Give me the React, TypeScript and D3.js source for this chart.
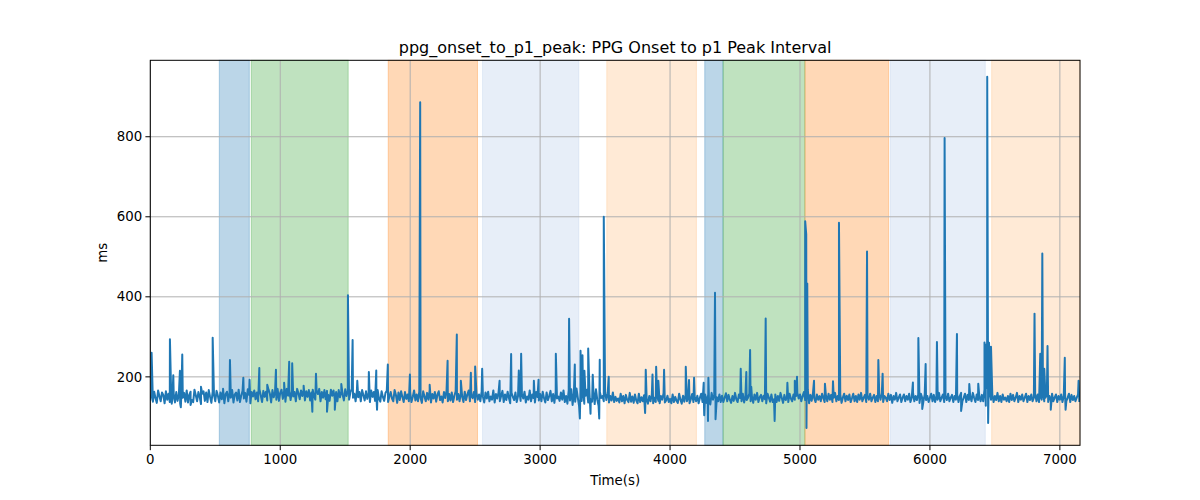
import React from 'react';
import * as d3 from 'd3';

const TITLE = 'ppg_onset_to_p1_peak: PPG Onset to p1 Peak Interval';
const X_LABEL = 'Time(s)';
const Y_LABEL = 'ms';

const X_DOMAIN: [number, number] = [0, 7155];
const Y_DOMAIN: [number, number] = [29, 991];
const X_TICKS = [0, 1000, 2000, 3000, 4000, 5000, 6000, 7000];
const Y_TICKS = [200, 400, 600, 800];

// shaded segments: [start, end, colour]
const SPAN_START = [531, 777, 1831, 2557, 3513, 4267, 4408, 5038, 5695, 6475];
const SPAN_END = [762, 1523, 2518, 3298, 4203, 4408, 5038, 5682, 6426, 7155];
const SPAN_COLOR = ['#1f77b4', '#2ca02c', '#ff7f0e', '#aec7e8', '#ffbb78', '#1f77b4', '#2ca02c', '#ff7f0e', '#aec7e8', '#ffbb78'];

// baseline read every 10 s
const BASE_STEP = 10;
const BASELINE = [
  141,160,138,163,147,135,166,152,139,161,155,134,164,143,158,137,167,145,159,136,
  162,140,157,133,165,148,160,138,166,136,155,163,142,137,168,154,139,162,150,132,
  158,164,140,161,137,167,150,135,163,156,139,165,153,136,161,144,166,134,157,163,
  139,162,148,167,136,156,161,141,168,137,153,165,146,160,138,169,155,134,162,151,
  166,144,161,139,169,154,137,165,150,163,141,168,158,136,167,149,162,143,170,140,
  160,168,145,165,138,170,153,163,142,167,151,162,139,170,159,144,166,152,168,141,
  164,150,167,141,161,168,152,143,166,157,170,139,162,148,167,144,165,155,140,168,
  153,166,144,162,139,167,149,164,156,141,169,152,165,143,161,170,148,158,139,166,
  149,162,139,167,154,141,164,145,159,137,166,150,162,140,155,167,145,138,164,150,
  140,160,165,137,151,162,146,139,167,155,135,161,142,164,150,137,162,145,156,139,
  161,137,150,166,141,156,139,163,147,135,164,151,139,160,143,167,136,157,146,162,
  138,156,164,142,151,136,162,147,166,139,157,141,161,137,152,164,143,157,139,161,
  151,137,163,142,156,166,139,152,147,162,137,160,143,156,139,164,150,136,161,146,
  163,139,151,143,166,136,157,146,161,139,152,165,137,156,142,163,147,134,160,150,
  142,161,137,152,165,140,157,146,163,136,151,143,166,139,156,147,136,162,150,141,
  157,139,163,147,136,161,142,152,165,139,157,135,163,146,151,140,161,143,166,137,
  152,133,166,141,169,130,160,138,171,148,127,165,140,172,133,153,168,136,161,144,
  138,166,132,169,143,128,162,147,152,139,163,142,158,136,152,141,161,137,150,140,
  146,136,158,139,152,134,155,142,137,160,138,151,135,156,141,134,158,137,149,139,
  154,135,144,133,152,139,157,134,148,137,155,140,134,152,143,159,136,141,153,137,
  145,134,156,137,150,140,135,158,143,133,153,138,156,139,149,134,144,157,137,150,
  139,153,134,148,158,137,144,156,135,152,140,131,160,143,155,134,149,139,156,137,
  153,137,148,159,139,155,143,135,152,140,160,144,137,156,147,139,158,136,152,142,
  148,158,139,152,135,156,143,160,137,149,155,139,153,144,134,158,148,138,156,137,
  144,156,137,152,140,160,147,135,155,142,151,137,158,146,139,156,143,152,160,146,
  156,139,152,162,142,130,168,134,155,140,160,146,137,156,143,152,139,158,147,137,
  152,139,158,143,155,137,148,160,139,152,142,156,135,148,158,139,153,142,156,137,
  147,158,139,152,137,156,143,160,139,148,155,137,152,143,158,139,148,155,137,152,
  139,156,143,160,137,152,148,139,158,142,155,135,152,143,160,139,148,156,137,148,
  156,139,152,143,158,137,148,160,139,152,142,156,135,158,148,139,156,142,152,137,
  148,158,139,155,137,152,143,160,139,148,156,137,152,142,158,139,148,155,137,152,
  143,156,137,152,160,139,148,158,137,155,142,152,139,160,148,137,156,142,152,139,
  155,139,168,128,172,131,163,143,157,137,152,142,160,139,152,137,156,143,148,139,
  152,137,158,142,155,139,148,160,137,152,143,156,139,148,158,137,152,142,156,139,
  148,158,139,156,137,152,143,160,139,148,155,137,152,142,158,139,148,156,137,152,
  143,156,137,152,160,139,148,158,137,155,142,152,139,148,156,137,
];

// isolated spikes and dips: time (s), value (ms)
const SPIKE_T = [
  10, 151, 165, 177, 228, 235, 246, 310, 390, 480, 560, 613, 716, 764, 839, 900, 967, 1030, 1069, 1092,
  1180, 1247, 1275, 1360, 1420, 1470, 1521, 1557, 1593, 1682, 1739, 1745, 1828, 1998, 2077, 2150,
  2288, 2359, 2390, 2467, 2500, 2554, 2688, 2777, 2836, 2854, 2952, 2988, 3121, 3223, 3267, 3306,
  3311, 3326, 3341, 3370, 3388, 3405, 3455, 3459, 3490, 3528, 3808, 3813, 3865, 3893, 3910, 3954,
  4121, 4146, 4185, 4259, 4263, 4292, 4295, 4346, 4350, 4544, 4587, 4616, 4625, 4736, 4805, 4903,
  4960, 4977, 5040, 5048, 5050, 5056, 5108, 5192, 5254, 5300, 5516, 5603, 5636, 5869, 5911, 5941,
  5967, 6054, 6113, 6208, 6240, 6303, 6372, 6420, 6430, 6441, 6448, 6455, 6470, 6805, 6849, 6865,
  6880, 6905, 6930, 7038, 7044, 7144,
];
const SPIKE_V = [
  260, 294, 133, 204, 215, 124, 256, 130, 175, 298, 170, 242, 198, 193, 222, 180, 218, 185, 238, 234,
  178, 113, 208, 113, 118, 182, 404, 292, 190, 212, 216, 118, 231, 206, 886, 180,
  240, 306, 190, 210, 226, 220, 190, 257, 216, 258, 190, 193, 258, 345, 231, 96,
  265, 254, 215, 271, 108, 205, 96, 243, 600, 200, 110, 218, 206, 225, 190, 218,
  225, 192, 198, 185, 104, 90, 198, 410, 94, 220, 212, 267, 175, 346, 90, 185,
  190, 200, 589, 556, 72, 433, 190, 183, 189, 585, 513, 242, 208, 186, 297, 120,
  232, 287, 797, 307, 115, 182, 183, 286, 280, 950, 85, 285, 275, 358, 258, 508,
  220, 277, 118, 248, 118, 190,
];

const W = 1200;
const H = 500;
const M = { left: 150.3, right: 120, top: 60.3, bottom: 54.7 };
const FONT = 'DejaVu Sans, sans-serif';

export default function App() {
  const iw = W - M.left - M.right;
  const ih = H - M.top - M.bottom;
  const x = d3.scaleLinear().domain(X_DOMAIN).range([0, iw]);
  const y = d3.scaleLinear().domain(Y_DOMAIN).range([ih, 0]);

  const pts: [number, number][] = BASELINE.map((v, i) => [i * BASE_STEP, v]);
  SPIKE_T.forEach((t, i) => pts.push([t, SPIKE_V[i]]));
  pts.sort((a, b) => a[0] - b[0]);

  const line = d3
    .line<[number, number]>()
    .x((d) => x(d[0]))
    .y((d) => y(d[1]));

  return (
    <div style={{ position: 'absolute', left: 0, top: 0 }}>
      <svg width={W} height={H} style={{ display: 'block', background: '#fff' }}>
        <defs>
          <clipPath id="plot">
            <rect x={0} y={0} width={iw} height={ih} />
          </clipPath>
        </defs>
        <text x={M.left + iw / 2} y={53} textAnchor="middle" fontFamily={FONT} fontSize={16} fill="#000">
          {TITLE}
        </text>
        <g transform={`translate(${M.left},${M.top})`}>
          {SPAN_START.map((s, i) => (
            <rect
              key={'s' + i}
              x={x(s)}
              y={0}
              width={x(SPAN_END[i]) - x(s)}
              height={ih}
              fill={SPAN_COLOR[i]}
              fillOpacity={0.3}
              stroke={SPAN_COLOR[i]}
              strokeOpacity={0.3}
              strokeWidth={1}
            />
          ))}
          {X_TICKS.map((t) => (
            <line key={'gx' + t} x1={x(t)} x2={x(t)} y1={0} y2={ih} stroke="#b0b0b0" strokeWidth={1} />
          ))}
          {Y_TICKS.map((t) => (
            <line key={'gy' + t} x1={0} x2={iw} y1={y(t)} y2={y(t)} stroke="#b0b0b0" strokeWidth={1} />
          ))}
          <path
            d={line(pts) || ''}
            fill="none"
            stroke="#1f77b4"
            strokeWidth={2}
            strokeLinejoin="round"
            clipPath="url(#plot)"
          />
          <rect x={0} y={0} width={iw} height={ih} fill="none" stroke="#000" strokeWidth={1} />
          {X_TICKS.map((t) => (
            <g key={'tx' + t} transform={`translate(${x(t)},${ih})`}>
              <line y1={0} y2={4.9} stroke="#000" strokeWidth={1} />
              <text y={19} textAnchor="middle" fontFamily={FONT} fontSize={13.33} fill="#000">
                {t}
              </text>
            </g>
          ))}
          {Y_TICKS.map((t) => (
            <g key={'ty' + t} transform={`translate(0,${y(t)})`}>
              <line x1={0} x2={-4.9} stroke="#000" strokeWidth={1} />
              <text x={-8} dy="0.35em" textAnchor="end" fontFamily={FONT} fontSize={13.33} fill="#000">
                {t}
              </text>
            </g>
          ))}
          <text x={iw / 2} y={ih + 40} textAnchor="middle" fontFamily={FONT} fontSize={13.33} fill="#000">
            {X_LABEL}
          </text>
          <text
            transform={`translate(${102 - M.left},${ih / 2}) rotate(-90)`}
            dy="0.35em"
            textAnchor="middle"
            fontFamily={FONT}
            fontSize={13.33}
            fill="#000"
          >
            {Y_LABEL}
          </text>
        </g>
      </svg>
    </div>
  );
}
